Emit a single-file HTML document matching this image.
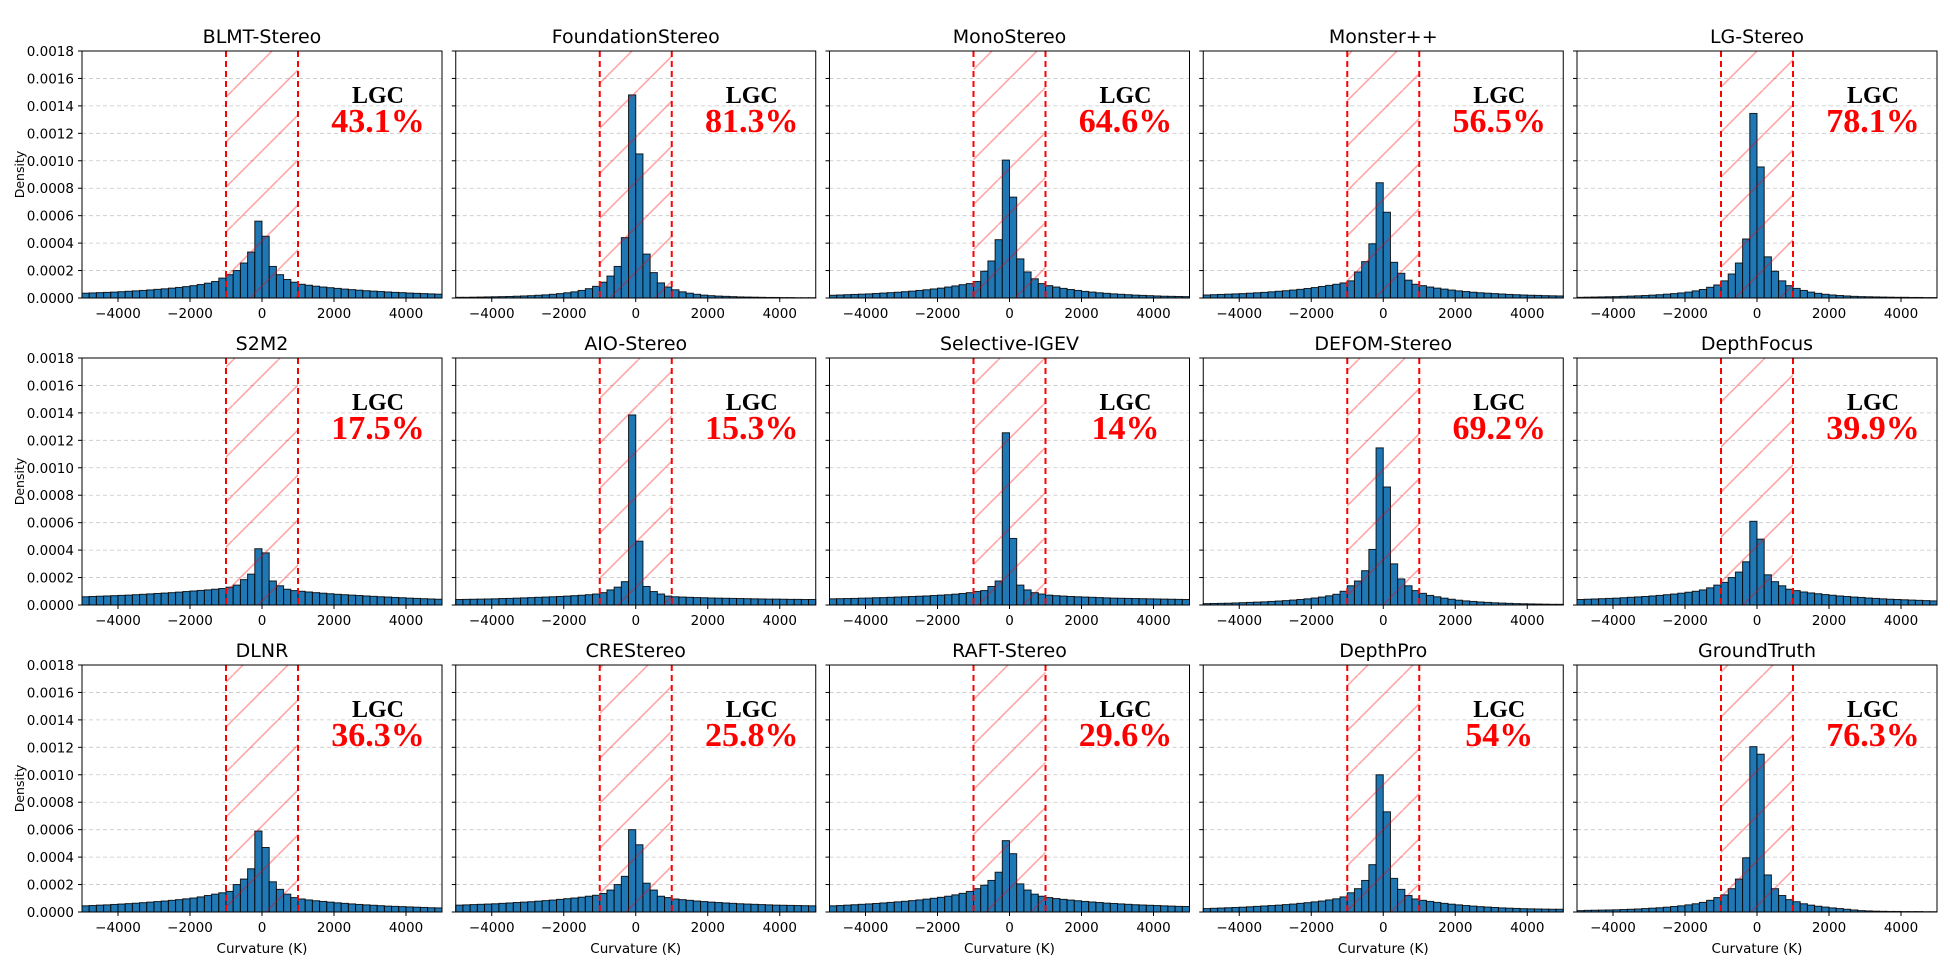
<!DOCTYPE html>
<html><head><meta charset="utf-8">
<style>
html,body{margin:0;padding:0;background:#fff;}
svg{display:block;}
text{font-family:"DejaVu Sans","Liberation Sans",sans-serif;}
text.serif{font-family:"Liberation Serif",serif;}
</style></head>
<body>
<svg id="fig" xmlns="http://www.w3.org/2000/svg" width="1950" height="964" viewBox="0 0 1950 964">
<defs>
<pattern id="hatch" patternUnits="userSpaceOnUse" width="45" height="45" patternTransform="translate(8,0)">
<line x1="0" y1="45" x2="45" y2="0" stroke="rgba(255,0,0,0.35)" stroke-width="1.6"/>
<line x1="-45" y1="45" x2="0" y2="0" stroke="rgba(255,0,0,0.35)" stroke-width="1.6"/>
<line x1="45" y1="45" x2="90" y2="0" stroke="rgba(255,0,0,0.35)" stroke-width="1.6"/>
</pattern>
</defs>
</svg>
<script>
const titles = ["BLMT-Stereo","FoundationStereo","MonoStereo","Monster++","LG-Stereo","S2M2","AIO-Stereo","Selective-IGEV","DEFOM-Stereo","DepthFocus","DLNR","CREStereo","RAFT-Stereo","DepthPro","GroundTruth"];
const lgcLabels = ["43.1%","81.3%","64.6%","56.5%","78.1%","17.5%","15.3%","14%","69.2%","39.9%","36.3%","25.8%","29.6%","54%","76.3%"];
const binEdgeStart = -5000;
const binWidth = 200;
const yTicks = [0,0.0002,0.0004,0.0006,0.0008,0.0010,0.0012,0.0014,0.0016,0.0018];
const yTickLabels = ["0.0000","0.0002","0.0004","0.0006","0.0008","0.0010","0.0012","0.0014","0.0016","0.0018"];
const xTicks = [-4000,-2000,0,2000,4000];
const xTickLabels = ["\u22124000","\u22122000","0","2000","4000"];
const bandLow = -1000, bandHigh = 1000;
// densities in units of 1e-4, 50 bins each from -5000 to 5000
const dBLMT = [.35,.37,.39,.41,.43,.46,.49,.52,.55,.59,.63,.67,.72,.77,.83,.9,.98,1.08,1.2,1.45, 1.7,2.0,2.55,3.35,5.6,4.5,2.3,1.7,1.35,1.15, 1.0,.93,.86,.8,.75,.7,.65,.61,.57,.53,.5,.47,.44,.41,.39,.36,.34,.32,.3,.28];
const dFoundation = [.05,.05,.06,.07,.08,.09,.1,.11,.13,.15,.17,.2,.23,.27,.32,.38,.45,.55,.68,.85, 1.15,1.6,2.3,4.4,14.8,10.5,3.2,1.85,1.1,.8, .6,.45,.35,.27,.21,.17,.14,.12,.1,.08,.07,.06,.05,.04,.04,.03,.03,.02,.02,.02];
const dMono = [.2,.22,.24,.26,.28,.3,.33,.36,.39,.42,.46,.5,.55,.6,.66,.72,.8,.88,.97,1.05, 1.2,1.95,2.7,4.25,10.05,7.35,2.85,1.9,1.4,1.05, .9,.8,.7,.62,.55,.48,.43,.38,.34,.3,.27,.24,.21,.19,.17,.15,.13,.12,.11,.1];
const dMonster = [.22,.24,.26,.28,.3,.32,.35,.38,.41,.45,.49,.53,.58,.63,.69,.76,.84,.92,1.0,1.1, 1.25,1.9,2.65,3.95,8.4,6.25,2.6,1.8,1.3,1.0, .9,.8,.72,.65,.58,.52,.47,.42,.38,.35,.32,.29,.26,.24,.22,.2,.19,.17,.16,.15];
const dLG = [.05,.06,.07,.08,.09,.1,.12,.14,.16,.18,.21,.24,.28,.32,.37,.43,.52,.62,.78,.95, 1.25,1.75,2.55,4.3,13.45,9.55,3.0,1.95,1.25,.9, .7,.55,.43,.34,.27,.22,.18,.15,.12,.1,.09,.08,.07,.06,.05,.05,.04,.04,.03,.03];
const dS2M2 = [.6,.62,.64,.66,.68,.7,.72,.75,.78,.81,.84,.87,.9,.94,.98,1.02,1.06,1.1,1.15,1.2, 1.3,1.45,1.85,2.25,4.1,3.8,1.75,1.4,1.15,1.05, 1.0,.95,.9,.86,.82,.78,.75,.72,.69,.66,.63,.6,.58,.55,.53,.5,.48,.46,.44,.42];
const dAIO = [.4,.41,.42,.43,.44,.45,.47,.48,.5,.52,.54,.56,.58,.6,.62,.65,.68,.71,.75,.8, .9,1.1,1.3,1.7,13.85,4.65,1.35,.98,.8,.65, .6,.58,.56,.54,.53,.51,.5,.49,.48,.47,.46,.45,.44,.43,.43,.42,.41,.41,.4,.4];
const dSelective = [.45,.46,.47,.48,.5,.51,.53,.54,.56,.58,.6,.62,.64,.66,.69,.72,.75,.79,.84,.9, .98,1.05,1.35,1.75,12.55,4.85,1.45,1.1,.9,.8, .72,.68,.65,.62,.6,.58,.56,.54,.52,.5,.49,.48,.47,.46,.45,.44,.43,.42,.41,.4];
const dDEFOM = [.1,.11,.12,.13,.15,.17,.19,.21,.23,.26,.29,.32,.36,.4,.45,.51,.58,.67,.78,1.0, 1.4,1.75,2.5,4.05,11.45,8.6,3.0,1.9,1.4,1.05, .85,.7,.6,.5,.42,.35,.3,.26,.22,.19,.16,.14,.12,.1,.09,.08,.07,.06,.05,.05];
const dDepthFocus = [.4,.42,.44,.46,.48,.5,.53,.56,.59,.62,.66,.7,.75,.8,.86,.93,1.0,1.1,1.25,1.45, 1.65,2.0,2.4,3.15,6.1,4.8,2.2,1.7,1.4,1.15, 1.05,.95,.88,.82,.76,.71,.66,.62,.58,.55,.51,.48,.45,.42,.4,.38,.36,.34,.32,.3];
const dDLNR = [.45,.47,.5,.52,.55,.58,.61,.64,.68,.72,.76,.8,.85,.9,.96,1.02,1.1,1.2,1.3,1.4, 1.5,2.0,2.4,3.15,5.9,4.7,2.2,1.65,1.3,1.05, .95,.88,.82,.77,.72,.67,.63,.59,.55,.52,.49,.46,.43,.41,.39,.37,.35,.33,.31,.3];
const dCRE = [.5,.52,.54,.56,.58,.6,.63,.66,.69,.72,.75,.79,.83,.87,.92,.97,1.02,1.08,1.15,1.22, 1.35,1.6,2.0,2.6,6.0,4.9,2.1,1.6,1.15,1.05, .95,.9,.85,.8,.76,.72,.69,.66,.63,.6,.58,.56,.54,.52,.5,.49,.48,.47,.46,.45];
const dRAFT = [.45,.47,.5,.53,.56,.59,.62,.66,.7,.74,.78,.83,.88,.94,1.0,1.07,1.15,1.25,1.36,1.5, 1.7,1.95,2.3,2.9,5.2,4.25,2.05,1.6,1.3,1.15, 1.05,.98,.92,.87,.82,.77,.73,.69,.65,.62,.59,.56,.53,.51,.49,.47,.45,.43,.41,.4];
const dDepthPro = [.25,.27,.29,.31,.33,.35,.38,.41,.44,.47,.5,.54,.58,.63,.68,.74,.8,.88,.96,1.1, 1.4,1.7,2.3,3.45,10.0,7.3,2.45,1.65,1.2,.95, .85,.77,.7,.63,.57,.52,.47,.43,.39,.36,.33,.3,.28,.26,.24,.23,.22,.21,.2,.2];
const dGT = [.1,.12,.13,.14,.15,.16,.18,.2,.22,.25,.28,.31,.35,.4,.45,.52,.6,.7,.85,1.05, 1.25,1.7,2.4,3.95,12.05,11.5,2.7,1.7,1.2,.9, .75,.6,.5,.42,.36,.3,.25,.2,.15,.1,.08,.06,.05,.04,.04,.03,.03,.03,.02,.02];
const series = [dBLMT,dFoundation,dMono,dMonster,dLG,dS2M2,dAIO,dSelective,dDEFOM,dDepthFocus,dDLNR,dCRE,dRAFT,dDepthPro,dGT];

const NS = "http://www.w3.org/2000/svg";
const svg = document.getElementById("fig");
function mk(tag, attrs, parent){ const e=document.createElementNS(NS,tag); for(const k in attrs) e.setAttribute(k,attrs[k]); (parent||svg).appendChild(e); return e; }
function slug(s){ return s.toLowerCase().replace(/[^a-z0-9]+/g,'-').replace(/^-|-$/g,''); }

const PW=360, PH=247, X0=82, DX=373.75, Y0=51, DY=307;
const XMIN=-5000, XMAX=5000, YMAX=0.0018;

series.forEach((vals, p)=>{
  const r=Math.floor(p/5), c=p%5;
  const L=X0+c*DX, T=Y0+r*DY, B=T+PH;
  const sx=v=>L+(v-XMIN)/(XMAX-XMIN)*PW;
  const sy=v=>B-v/YMAX*PH;
  const name=slug(titles[p]);
  const g=mk("g",{});
  
  
  yTicks.forEach((t,i)=>{
    if(i===0||i===yTicks.length-1) return;
    const gl=mk("line",{x1:L,x2:L+PW,y1:sy(t),y2:sy(t),stroke:"#b0b0b0","stroke-width":0.8,"stroke-dasharray":"4,3",opacity:0.7},g);
    
    
  });
  vals.forEach((v,i)=>{
    const x0=binEdgeStart+i*binWidth, x1=x0+binWidth;
    const d=v*1e-4;
    const b=mk("rect",{x:sx(x0),y:sy(d),width:sx(x1)-sx(x0),height:B-sy(d),fill:"#1f77b4",stroke:"rgba(0,0,0,0.85)","stroke-width":1},g);
    
    
  });
  const hb=mk("rect",{x:sx(bandLow),y:T,width:sx(bandHigh)-sx(bandLow),height:PH,fill:"url(#hatch)"},g);
  
  
  [bandLow,bandHigh].forEach(v=>{
    const dl=mk("line",{x1:sx(v),x2:sx(v),y1:T,y2:B,stroke:"#ff0000","stroke-width":2,"stroke-dasharray":"6,4"},g);
    
    
  });
  const fr=mk("rect",{x:L,y:T,width:PW,height:PH,fill:"none",stroke:"#000","stroke-width":1},g);
  
  
  yTicks.forEach((t,i)=>{
    mk("line",{x1:L-4,x2:L,y1:sy(t),y2:sy(t),stroke:"#000","stroke-width":1},g);
    if(c===0){
      const tl=mk("text",{x:L-8,y:sy(t)+5,"text-anchor":"end","font-size":13.5,fill:"#000"},g);
      tl.textContent=yTickLabels[i];
      
      
    }
  });
  xTicks.forEach((t,i)=>{
    mk("line",{x1:sx(t),x2:sx(t),y1:B,y2:B+4,stroke:"#000","stroke-width":1},g);
    const tl=mk("text",{x:sx(t),y:B+20,"text-anchor":"middle","font-size":13.5,fill:"#000"},g);
    tl.textContent=xTickLabels[i];
    
    
  });
  const ti=mk("text",{x:L+PW/2,y:T-8,"text-anchor":"middle","font-size":19,fill:"#000"},g);
  ti.textContent=titles[p];
  
  
  const lg=mk("text",{x:L+296,y:T+52,"text-anchor":"middle","font-size":24,"font-weight":"bold",fill:"#000","class":"serif",style:"font-family:'Liberation Serif',serif"},g);
  lg.textContent="LGC";
  
  
  const pc=mk("text",{x:L+296,y:T+81,"text-anchor":"middle","font-size":34,"font-weight":"bold",fill:"#ff0000","class":"serif",style:"font-family:'Liberation Serif',serif"},g);
  pc.textContent=lgcLabels[p];
  
  
  if(c===0){
    const yl=mk("text",{x:0,y:0,"text-anchor":"middle","font-size":12.5,fill:"#000",transform:`translate(24,${T+PH/2}) rotate(-90)`},g);
    yl.textContent="Density";
    
    
  }
  if(r===2){
    const xl=mk("text",{x:L+PW/2,y:B+41,"text-anchor":"middle","font-size":13.5,fill:"#000"},g);
    xl.textContent="Curvature (K)";
    
    
  }
});
</script>
</body></html>
